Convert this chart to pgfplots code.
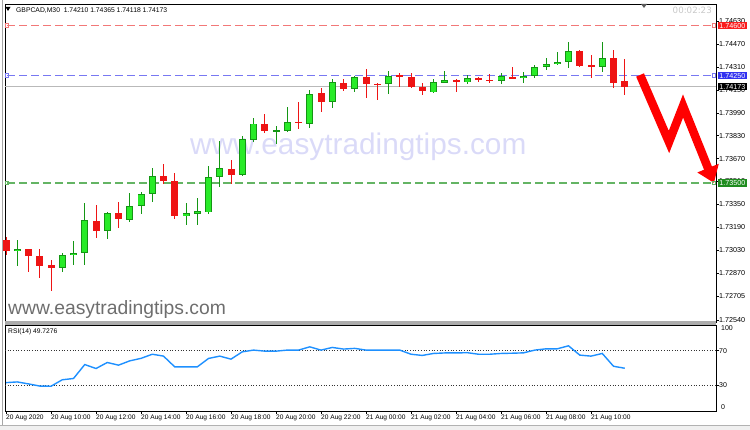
\documentclass[border=0pt]{standalone}
\usepackage{pgfplots}
\pgfplotsset{compat=1.18}
\usepackage{pgfplotstable}
\usepackage{fontspec}
\setmainfont{Liberation Sans}
\newfontfamily\dejavu{DejaVu Sans}
\usetikzlibrary{arrows.meta}

\definecolor{bullfill}{RGB}{40,235,40}
\definecolor{bullline}{RGB}{20,150,20}
\definecolor{bearfill}{RGB}{238,20,20}
\definecolor{lvlred}{RGB}{242,120,120}
\definecolor{lvlblue}{RGB}{120,120,242}
\definecolor{lvlgreen}{RGB}{100,180,100}
\definecolor{curgrey}{RGB}{185,185,185}
\definecolor{rsiblue}{RGB}{30,144,255}
\definecolor{wmgrey}{RGB}{110,110,110}
\definecolor{wmlav}{RGB}{218,218,248}
\definecolor{boxred}{RGB}{250,30,30}
\definecolor{boxblue}{RGB}{50,50,240}
\definecolor{boxgreen}{RGB}{30,140,30}
\definecolor{clockgrey}{RGB}{200,200,200}

% bearish candles: index, open, high, low, close
\pgfplotstableread{
i O H L C
0 1.73100 1.73121 1.72995 1.73023
2 1.73035 1.73037 1.72878 1.72988
3 1.72988 1.73035 1.72832 1.72918
4 1.72925 1.72960 1.72743 1.72904
8 1.73235 1.73345 1.73112 1.73163
10 1.73291 1.73364 1.73182 1.73245
14 1.73548 1.73632 1.73495 1.73515
15 1.73515 1.73567 1.73248 1.73268
20 1.73597 1.73660 1.73492 1.73555
23 1.73912 1.73980 1.73847 1.73863
26 1.73928 1.74068 1.73877 1.73921
28 1.74127 1.74166 1.73994 1.74064
30 1.74201 1.74227 1.74143 1.74155
32 1.74239 1.74295 1.74096 1.74192
33 1.74195 1.74199 1.74080 1.74188
35 1.74255 1.74267 1.74173 1.74239
36 1.74243 1.74267 1.74164 1.74169
37 1.74173 1.74197 1.74115 1.74145
40 1.74220 1.74229 1.74138 1.74206
42 1.74234 1.74243 1.74208 1.74220
43 1.74222 1.74260 1.74201 1.74213
45 1.74243 1.74313 1.74225 1.74234
51 1.74425 1.74433 1.74309 1.74320
52 1.74325 1.74395 1.74232 1.74309
54 1.74376 1.74430 1.74166 1.74197
55 1.74210 1.74365 1.74118 1.74173
}\bear

% bullish candles
\pgfplotstableread{
i O H L C
1 1.73023 1.73100 1.72920 1.73037
5 1.72909 1.73011 1.72878 1.72995
6 1.72995 1.73095 1.72925 1.73011
7 1.73007 1.73357 1.72925 1.73240
9 1.73165 1.73296 1.73107 1.73291
11 1.73240 1.73427 1.73228 1.73340
12 1.73340 1.73436 1.73282 1.73422
13 1.73422 1.73602 1.73368 1.73550
16 1.73270 1.73357 1.73205 1.73287
17 1.73284 1.73392 1.73205 1.73303
18 1.73294 1.73618 1.73282 1.73541
19 1.73541 1.73793 1.73473 1.73606
21 1.73555 1.73828 1.73548 1.73807
22 1.73800 1.73952 1.73788 1.73915
24 1.73861 1.73898 1.73772 1.73870
25 1.73863 1.74029 1.73854 1.73924
27 1.73912 1.74150 1.73886 1.74122
29 1.74068 1.74227 1.74026 1.74208
31 1.74155 1.74250 1.74134 1.74243
34 1.74190 1.74285 1.74122 1.74248
38 1.74134 1.74225 1.74127 1.74208
39 1.74201 1.74283 1.74197 1.74220
41 1.74204 1.74255 1.74190 1.74232
44 1.74211 1.74267 1.74190 1.74250
46 1.74236 1.74278 1.74197 1.74250
47 1.74250 1.74325 1.74232 1.74313
48 1.74313 1.74372 1.74290 1.74332
49 1.74332 1.74418 1.74325 1.74348
50 1.74344 1.74488 1.74302 1.74425
53 1.74309 1.74488 1.74278 1.74376
}\bull

% RSI(14)
\pgfplotstableread{
i r
0 33
1 33.8
2 31.5
3 29
4 28.8
5 36.3
6 37.8
7 54
8 49.4
9 56.4
10 53.3
11 58.3
12 61.2
13 66
14 63.8
15 51.3
16 51.3
17 51.3
18 61.1
19 63.8
20 60.3
21 68.8
22 70.8
23 69.6
24 69.6
25 70.8
26 70.8
27 74.6
28 70.8
29 73.9
30 72
31 72.8
32 70.8
33 70.8
34 70.8
35 70.8
36 66
37 64.6
38 66.9
39 67.5
40 67.5
41 67.8
42 66
43 66
44 66.9
45 67.2
46 67.6
47 70.8
48 72.3
49 72.3
50 75.8
51 65
52 63.8
53 66.9
54 52
55 49.73
}\rsi

\begin{document}
\begin{tikzpicture}
\path[use as bounding box] (0,0) rectangle (750pt,430pt);
% outer frame and bottom strip
\fill[gray!12] (0,0) rectangle (750pt,5pt);
\draw[gray!60, line width=0.6pt] (0,5pt) -- (750pt,5pt);
\draw[gray!70, line width=0.8pt] (2pt,5pt) -- (2pt,430pt);
% centre watermark (behind candles)
\node[anchor=base west, inner sep=0pt, text=wmlav, font=\fontsize{29.8}{32}\selectfont] at (190pt,275pt) {www.easytradingtips.com};

\begin{axis}[
  at={(5pt,426pt)}, anchor=north west,
  width=711pt, height=318pt, scale only axis,
  xmin=-0.09, xmax=63.11, ymin=1.725259, ymax=1.747519,
  xtick=\empty,
  ytick={1.7463,1.7447,1.7431,1.7415,1.7399,1.7383,1.7367,1.7351,1.7335,1.7319,1.7303,1.7287,1.72705,1.7254},
  yticklabels={1.74630,1.74470,1.74310,1.74150,1.73990,1.73830,1.73670,1.73510,1.73350,1.73190,1.73030,1.72870,1.72705,1.72540},
  yticklabel pos=right, ytick pos=right, tick align=outside, major tick length=3pt,
  yticklabel style={font=\fontsize{7.2}{8}\selectfont, anchor=west, inner sep=0pt},
  tick style={black, line width=0.6pt},
  axis line style={black, line width=0.8pt},
  clip=false,
  error bars/error mark=none,
  candle/.style={draw=none, mark=none, forget plot},
  hlevel/.style={line width=1.4pt, dash pattern=on 8pt off 4pt, mark=square, mark size=1.8pt, mark options={solid, fill=white, line width=0.8pt}},
]
% horizontal levels
\addplot[draw=curgrey, line width=1pt] coordinates {(-0.09,1.74173) (63.11,1.74173)};
\addplot[hlevel, draw=lvlred] coordinates {(0.09,1.746) (62.93,1.746)};
\addplot[hlevel, draw=lvlblue] coordinates {(0.09,1.7425) (62.93,1.7425)};
\addplot[hlevel, draw=lvlgreen] coordinates {(0.09,1.735) (62.93,1.735)};
% wicks
\addplot[candle, error bars/.cd, y dir=both, y explicit, error bar style={line width=1pt, draw=bullline}]
  table[x=i, y expr={(\thisrow{H}+\thisrow{L})/2}, y error expr={(\thisrow{H}-\thisrow{L})/2}]{\bull};
\addplot[candle, error bars/.cd, y dir=both, y explicit, error bar style={line width=1pt, draw=bearfill}]
  table[x=i, y expr={(\thisrow{H}+\thisrow{L})/2}, y error expr={(\thisrow{H}-\thisrow{L})/2}]{\bear};
% bodies
\addplot[candle, error bars/.cd, y dir=both, y explicit, error bar style={line width=7pt, draw=bullline}]
  table[x=i, y expr={(\thisrow{O}+\thisrow{C})/2}, y error expr={max(abs(\thisrow{C}-\thisrow{O})/2,0.00004)}]{\bull};
\addplot[candle, error bars/.cd, y dir=both, y explicit, error bar style={line width=5.4pt, draw=bullfill}]
  table[x=i, y expr={(\thisrow{O}+\thisrow{C})/2}, y error expr={max(abs(\thisrow{C}-\thisrow{O})/2-0.00006,0)}]{\bull};
\addplot[candle, error bars/.cd, y dir=both, y explicit, error bar style={line width=7pt, draw=bearfill}]
  table[x=i, y expr={(\thisrow{O}+\thisrow{C})/2}, y error expr={max(abs(\thisrow{C}-\thisrow{O})/2,0.00004)}]{\bear};
% zigzag arrow
\addplot[red, line width=8.5pt, line join=miter, -{Triangle[width=22pt,length=16pt]}] coordinates {(56.36,1.74255) (58.93,1.73786) (60.18,1.74038) (62.93,1.73499)};
\coordinate (Lr) at (axis cs:63.11,1.746);
\coordinate (Lb) at (axis cs:63.11,1.7425);
\coordinate (Lk) at (axis cs:63.11,1.74173);
\coordinate (Lg) at (axis cs:63.11,1.735);
\end{axis}

% price label boxes
\tikzset{pbox/.style={anchor=west, inner sep=1.2pt, text=white, font=\fontsize{7.2}{8}\selectfont}}
\node[pbox, fill=boxred] at ([xshift=2pt]Lr) {1.74600};
\node[pbox, fill=boxblue] at ([xshift=2pt]Lb) {1.74250};
\node[pbox, fill=black] at ([xshift=2pt]Lk) {1.74173};
\node[pbox, fill=boxgreen] at ([xshift=2pt]Lg) {1.73500};

% panel separator
\fill[gray!65] (5pt,105pt) rectangle (716pt,108.5pt);

\begin{axis}[
  at={(5pt,105pt)}, anchor=north west,
  width=711pt, height=86pt, scale only axis,
  xmin=-0.09, xmax=63.11, ymin=0, ymax=100,
  ytick={30,70}, yticklabels={30,70},
  yticklabel pos=right, ytick pos=right,
  xtick={0,4,...,52},
  xticklabels={20 Aug 2020,20 Aug 10:00,20 Aug 12:00,20 Aug 14:00,20 Aug 16:00,20 Aug 18:00,20 Aug 20:00,20 Aug 22:00,21 Aug 00:00,21 Aug 02:00,21 Aug 04:00,21 Aug 06:00,21 Aug 08:00,21 Aug 10:00},
  xtick pos=bottom, tick align=outside, major tick length=3pt,
  xticklabel style={font=\fontsize{6.6}{7.5}\selectfont, anchor=north west, inner sep=0pt, yshift=-1pt},
  yticklabel style={font=\fontsize{7}{8}\selectfont, anchor=west, inner sep=0pt},
  tick style={black, line width=0.6pt},
  axis line style={black, line width=0.8pt},
  clip=false,
]
\addplot[black!80, line width=0.7pt, dash pattern=on 1pt off 1.7pt] coordinates {(-0.09,70) (63.11,70)};
\addplot[black!80, line width=0.7pt, dash pattern=on 1pt off 1.7pt] coordinates {(-0.09,30) (63.11,30)};
\addplot[rsiblue, line width=1.4pt] table[x=i, y=r]{\rsi};
\node[anchor=north west, inner sep=0pt, font=\fontsize{6.7}{8}\selectfont] at ([xshift=3pt,yshift=-3pt]rel axis cs:0,1) {RSI(14) 49.7276};
\node[anchor=west, inner sep=0pt, font=\fontsize{7}{8}\selectfont] at ([xshift=5pt,yshift=-3.5pt]rel axis cs:1,1) {100};
\node[anchor=west, inner sep=0pt, font=\fontsize{7}{8}\selectfont] at ([xshift=5pt,yshift=4pt]rel axis cs:1,0) {0};
\end{axis}

% bottom watermark
\node[anchor=base west, inner sep=0pt, text=wmgrey, font=\fontsize{19.3}{22}\selectfont] at (8pt,115pt) {www.easytradingtips.com};
% title
\fill[black] (5.5pt,423pt) -- (10.5pt,423pt) -- (8pt,419pt) -- cycle;
\node[anchor=base west, inner sep=0pt, font=\fontsize{6.8}{8}\selectfont] at (16pt,417.5pt) {GBPCAD,M30\ \ 1.74210 1.74365 1.74118 1.74173};
\node[anchor=base east, inner sep=0pt, text=clockgrey, font=\dejavu\fontsize{8.7}{10}\selectfont] at (712pt,416pt) {00:02:23};
\fill[gray!70!black] (641pt,426pt) -- (647pt,426pt) -- (644pt,422pt) -- cycle;
\end{tikzpicture}
\end{document}
